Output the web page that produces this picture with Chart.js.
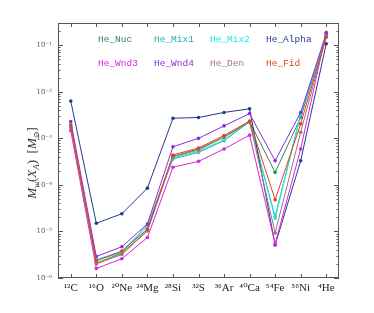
<!DOCTYPE html>
<html>
<head>
<meta charset="utf-8">
<script src="https://cdn.jsdelivr.net/npm/chart.js@4"></script>
<style>
  body { margin: 0; background: #fff; }
  #box { width: 374px; height: 313px; }
</style>
</head>
<body>
<div id="box"><canvas id="myChart"></canvas></div>
<script>
let isotopes = ['¹²C', '¹⁶O', '²⁰Ne', '²⁴Mg', '²⁸Si', '³²S', '³⁶Ar', '⁴⁰Ca', '⁵⁴Fe', '⁵⁶Ni', '⁴He'];

let heNuc   = [1.8e-3, 2.1e-6, 3.4e-6, 1.05e-5, 4.1e-4, 5.9e-4, 1.07e-3, 2.3e-3, 1.86e-4, 2.8e-3, 0.158];
let heMix1  = [1.74e-3, 2.4e-6, 3.55e-6, 1.32e-5, 3.6e-4, 5.0e-4, 8.9e-4, 2.25e-3, 2.1e-5, 3.2e-3, 0.166];
let heMix2  = [1.7e-3, 2.5e-6, 3.7e-6, 1.38e-5, 3.8e-4, 5.25e-4, 9.3e-4, 2.3e-3, 1.9e-5, 3.3e-3, 0.17];
let heAlpha = [6.3e-3, 1.5e-5, 2.4e-5, 8.5e-5, 2.7e-3, 2.8e-3, 3.6e-3, 4.3e-3, 5.1e-6, 3.3e-4, 0.107];
let heWnd3  = [1.45e-3, 1.6e-6, 2.6e-6, 7.4e-6, 2.4e-4, 3.2e-4, 5.9e-4, 1.17e-3, 5.4e-6, 5.9e-4, 0.19];
let heWnd4  = [2.3e-3, 2.9e-6, 4.7e-6, 1.45e-5, 6.6e-4, 1.0e-3, 1.85e-3, 3.4e-3, 3.3e-4, 3.6e-3, 0.178];
let heDen   = [1.66e-3, 2.0e-6, 3.2e-6, 1.02e-5, 4.0e-4, 5.6e-4, 1.05e-3, 2.24e-3, 9.3e-6, 1.35e-3, 0.155];
let heFid   = [1.95e-3, 2.35e-6, 3.8e-6, 1.12e-5, 4.4e-4, 6.2e-4, 1.15e-3, 2.35e-3, 4.8e-5, 2.05e-3, 0.148];

let yTicks = [1e-6, 1e-5, 1e-4, 1e-3, 1e-2, 1e-1];
let yTickLabels = ['10⁻⁶', '10⁻⁵', '10⁻⁴', '10⁻³', '10⁻²', '10⁻¹'];

let series = [
  { name: 'He_Nuc',   data: heNuc,   color: '#2e8b57' },
  { name: 'He_Mix1',  data: heMix1,  color: '#20b2aa' },
  { name: 'He_Mix2',  data: heMix2,  color: '#1ee8e8' },
  { name: 'He_Alpha', data: heAlpha, color: '#243a8f' },
  { name: 'He_Wnd3',  data: heWnd3,  color: '#dd22dd' },
  { name: 'He_Wnd4',  data: heWnd4,  color: '#8a2be2' },
  { name: 'He_Den',   data: heDen,   color: '#a4766c' },
  { name: 'He_Fid',   data: heFid,   color: '#e2401c' }
];

// first dataset is painted last, so reverse to keep He_Fid on top
let datasets = series.slice().reverse().map(function (s) {
  return {
    label: s.name,
    data: s.data,
    borderColor: s.color,
    backgroundColor: s.color,
    borderWidth: 1,
    pointRadius: 1.8,
    pointBorderWidth: 0,
    tension: 0
  };
});

// legend text inside the plot, 4 columns x 2 rows, no markers
const textLegend = {
  id: 'textLegend',
  afterDraw(chart) {
    let ctx = chart.ctx;
    ctx.save();
    ctx.font = '9.5px "Liberation Mono", "DejaVu Sans Mono", monospace';
    ctx.textBaseline = 'middle';
    let colX = [98, 154, 210, 266];
    let rowY = [39, 63];
    series.forEach(function (s, i) {
      ctx.fillStyle = s.color;
      ctx.fillText(s.name, colX[i % 4], rowY[Math.floor(i / 4)]);
    });
    ctx.restore();
  }
};

// inward ticks on all four sides + y axis title with subscripts
const frameTicks = {
  id: 'frameTicks',
  afterDraw(chart) {
    let ctx = chart.ctx;
    let a = chart.chartArea;
    let x = chart.scales.x;
    let y = chart.scales.y;
    ctx.save();
    ctx.strokeStyle = '#555';
    ctx.lineWidth = 1;
    ctx.strokeRect(a.left + 0.5, a.top + 0.5, a.right - a.left - 1, a.bottom - a.top - 1);
    ctx.beginPath();
    for (let i = 0; i < isotopes.length; i++) {
      let px = Math.round(x.getPixelForValue(i)) + 0.5;
      ctx.moveTo(px, a.bottom); ctx.lineTo(px, a.bottom - 4);
      ctx.moveTo(px, a.top); ctx.lineTo(px, a.top + 4);
    }
    for (let e = -6; e <= 0; e++) {
      for (let m = 1; m <= 9; m++) {
        let v = m * Math.pow(10, e);
        if (v < y.min || v > y.max) continue;
        let py = Math.round(y.getPixelForValue(v)) + 0.5;
        let len = m === 1 ? 5 : 2.5;
        ctx.moveTo(a.left, py); ctx.lineTo(a.left + len, py);
        ctx.moveTo(a.right, py); ctx.lineTo(a.right - len, py);
      }
    }
    ctx.stroke();

    // y title  M_w(X_A) [M_sun]
    ctx.translate(32, 163);
    ctx.rotate(-Math.PI / 2);
    ctx.fillStyle = '#333';
    ctx.textBaseline = 'alphabetic';
    let parts = [
      ['M', 13, 0, true], ['w', 9, 3, true], ['(', 13, 0, false], ['X', 13, 0, true],
      ['A', 9, 3, true], [')', 13, 0, false], ['  [', 13, 0, false], ['M', 13, 0, true],
      ['⊙', 8, 3, false], [']', 13, 0, false]
    ];
    let total = 0;
    parts.forEach(function (p) {
      ctx.font = (p[3] ? 'italic ' : '') + p[1] + 'px "Liberation Serif", "DejaVu Serif", serif';
      total += ctx.measureText(p[0]).width;
    });
    let cx = -total / 2;
    parts.forEach(function (p) {
      ctx.font = (p[3] ? 'italic ' : '') + p[1] + 'px "Liberation Serif", "DejaVu Serif", serif';
      ctx.fillText(p[0], cx, 4 + p[2]);
      cx += ctx.measureText(p[0]).width;
    });
    ctx.restore();
  }
};

new Chart(document.getElementById('myChart'), {
  type: 'line',
  data: { labels: isotopes, datasets: datasets },
  options: {
    responsive: true,
    maintainAspectRatio: false,
    animation: false,
    layout: { padding: { left: 0, right: 35, top: 23, bottom: 0 } },
    plugins: { legend: { display: false }, tooltip: { enabled: false } },
    scales: {
      x: {
        offset: true,
        grid: { display: false, drawTicks: false },
        border: { display: false },
        ticks: {
          padding: 4,
          color: '#222',
          maxRotation: 0,
          autoSkip: false,
          font: { family: '"Liberation Serif", "DejaVu Serif", serif', size: 11 }
        },
        afterFit: function (scale) { scale.height = 35; }
      },
      y: {
        type: 'logarithmic',
        min: 1e-6,
        max: 0.3,
        grid: { display: false, drawTicks: false },
        border: { display: false },
        afterBuildTicks: function (scale) {
          scale.ticks = yTicks.map(function (v) { return { value: v }; });
        },
        ticks: {
          padding: 6,
          color: '#555',
          autoSkip: false,
          font: { family: '"DejaVu Serif", serif', size: 7 },
          callback: function (v) {
            let i = yTicks.indexOf(v);
            return i >= 0 ? yTickLabels[i] : '';
          }
        },
        afterFit: function (scale) { scale.width = 58; }
      }
    }
  },
  plugins: [textLegend, frameTicks]
});
</script>
</body>
</html>
